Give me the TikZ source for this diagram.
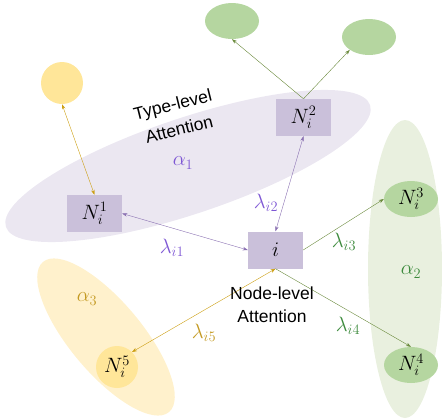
\documentclass[tikz,border=0pt]{standalone}
\usepackage{fontspec}
\setsansfont{Liberation Sans}
\usetikzlibrary{arrows.meta,shapes.geometric}
\definecolor{boxpurple}{HTML}{CAC0DA}
\definecolor{ellpurple}{HTML}{EBE7F1}
\definecolor{ellgreen}{HTML}{E9F0DF}
\definecolor{ellyellow}{HTML}{FFF1CC}
\definecolor{nodegreen}{HTML}{B5D6A0}
\definecolor{nodeyellow}{HTML}{FFE699}
\definecolor{txtpurple}{HTML}{7E57D4}
\definecolor{txtgreen}{HTML}{3C8A3C}
\definecolor{txtgold}{HTML}{C49A22}
\definecolor{linepurple}{HTML}{8A70B2}
\definecolor{linegreen}{HTML}{6A8A3C}
\definecolor{linegold}{HTML}{CC9E10}
\tikzset{
  box/.style={fill=boxpurple, minimum width=55pt, minimum height=37pt, inner sep=0pt, font=\fontsize{20.74}{24}\selectfont},
  gnode/.style={fill=nodegreen, ellipse, minimum width=54pt, minimum height=36pt, inner sep=0pt, font=\fontsize{20.74}{24}\selectfont},
  ynode/.style={fill=nodeyellow, circle, minimum size=42pt, inner sep=0pt, font=\fontsize{20.74}{24}\selectfont},
  lbl/.style={font=\fontsize{20.74}{24}\selectfont, inner sep=0pt},
  att/.style={font=\sffamily\fontsize{17.5}{19}\selectfont, inner sep=0pt},
  tip/.style={-{Stealth[length=5pt,width=3.5pt]}},
  btip/.style={{Stealth[length=5pt,width=3.5pt]}-{Stealth[length=5pt,width=3.5pt]}},
}
\begin{document}
\begin{tikzpicture}[x=1pt,y=-1pt]
\useasboundingbox (0,0) rectangle (442,418);
% background ellipses
\fill[ellpurple] (188,166) ellipse[x radius=192, y radius=48, rotate=18.5];
\fill[ellgreen] (405,269) ellipse[x radius=37, y radius=149];
\fill[ellyellow] (106,337) ellipse[x radius=98, y radius=36, rotate=-50];
% nodes
\node[box] (n1) at (94.5,213.5) {$N_i^1$};
\node[box] (n2) at (303.5,117.5) {$N_i^2$};
\node[box] (i) at (275.5,250) {$i$};
\node[gnode] (n3) at (411,199) {$N_i^3$};
\node[gnode] (n4) at (411,365) {$N_i^4$};
\node[ynode] (n5) at (117,367) {$N_i^5$};
\node[ynode] (y1) at (62,83) {};
\node[gnode] (g1) at (232,21) {};
\node[gnode] (g2) at (369,37) {};
% connectors
\draw[linegold, btip] (y1.south) -- (n1.north);
\draw[linegreen, tip] (n2.north) -- (g1.south);
\draw[linegreen, tip] (n2.north) -- (g2.south west);
\draw[linepurple, btip] (n1.east) -- (i.west);
\draw[linepurple, btip] (i.north) -- (n2.south);
\draw[linegreen, tip] (i.east) -- (n3.west);
\draw[linegreen, tip] (i.south) -- (n4.north);
\draw[linegold, btip] (i.south) -- (n5.north east);
% labels
\node[lbl, txtpurple] (a1) at (183,163) {$\alpha_1$};
\node[lbl, txtgreen] (a2) at (411,272) {$\alpha_2$};
\node[lbl, txtgold] (a3) at (87,299) {$\alpha_3$};
\node[lbl, txtpurple] (l1) at (172,248) {$\lambda_{i1}$};
\node[lbl, txtpurple] (l2) at (266,203) {$\lambda_{i2}$};
\node[lbl, txtgreen] (l3) at (344,242) {$\lambda_{i3}$};
\node[lbl, txtgreen] (l4) at (348,326) {$\lambda_{i4}$};
\node[lbl, txtgold] (l5) at (204,333) {$\lambda_{i5}$};
\node[att, rotate=14] (ta1) at (173,106) {Type-level};
\node[att, rotate=14] (ta2) at (179,129) {Attention};
\node[att] (na1) at (272,293) {Node-level};
\node[att] (na2) at (272,316) {Attention};
\end{tikzpicture}
\end{document}
